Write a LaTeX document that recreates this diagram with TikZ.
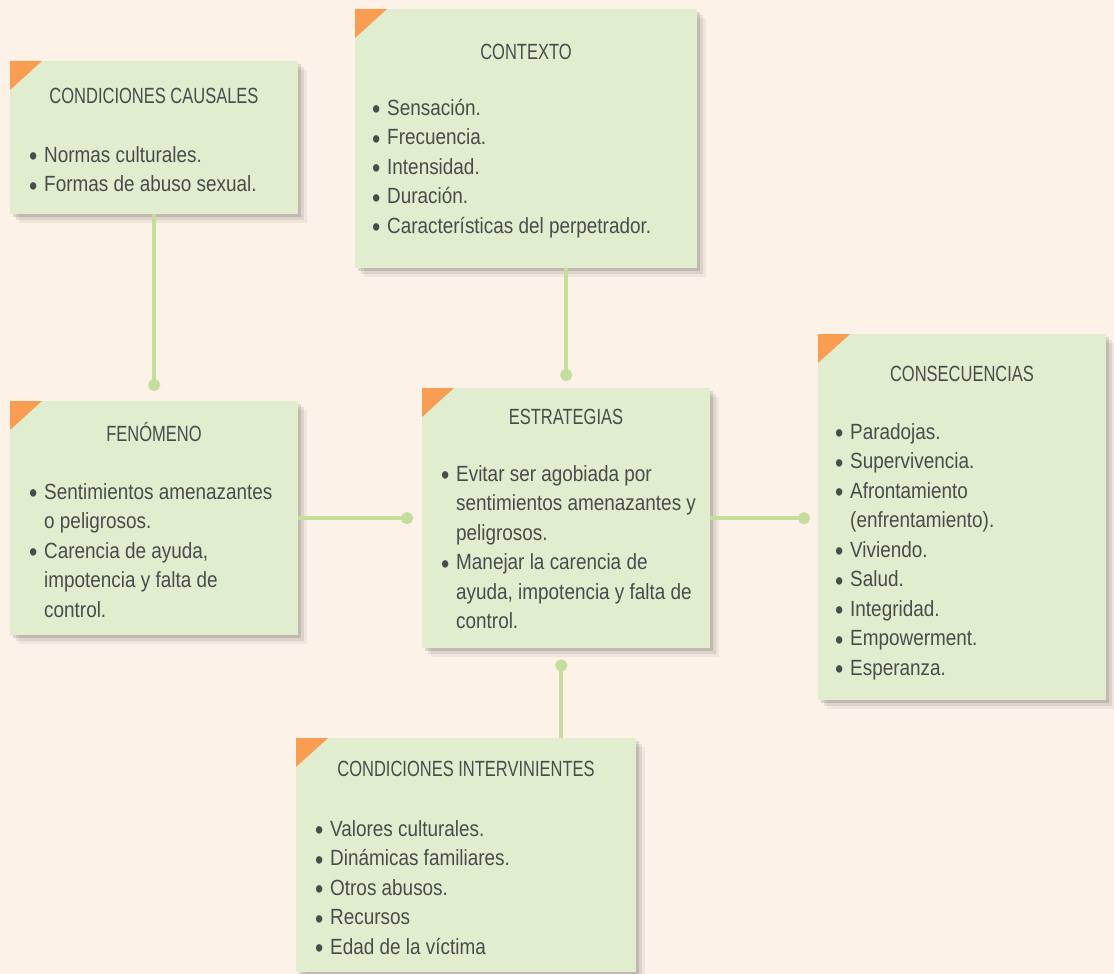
\documentclass[tikz,border=0pt]{standalone}
\usepackage{fontspec}
\setmainfont{Liberation Sans}[FakeStretch=0.86]
\newfontfamily\capsfont{Liberation Sans}[FakeStretch=0.75]
\usetikzlibrary{arrows.meta, positioning, shadows, calc}
\definecolor{PageBg}{HTML}{FDF2E8}
\definecolor{BoxFill}{HTML}{E0EDCE}
\definecolor{CornerOrange}{HTML}{F99D52}
\definecolor{TextGray}{HTML}{4B4B4D}
\definecolor{LinkGreen}{HTML}{C4DE9C}
\tikzset{
  card/.style={fill=BoxFill, draw=none, anchor=north west, inner sep=0pt,
    drop shadow={shadow xshift=3pt, shadow yshift=-3pt, fill=black, opacity=0.12},
    drop shadow={shadow xshift=6pt, shadow yshift=-6pt, fill=black, opacity=0.08},
    drop shadow={shadow xshift=9pt, shadow yshift=-9pt, fill=black, opacity=0.05}},
  ttl/.style={font=\capsfont\fontsize{22}{29.5}\selectfont, text=TextGray, inner sep=0pt},
  items/.style={font=\fontsize{22}{29.5}\selectfont, text=TextGray,
    align=left, anchor=north west, inner sep=0pt},
  link/.style={-{Circle[length=12pt]}, line width=4pt, draw=LinkGreen},
}
\newcommand{\bul}{\makebox[14pt][l]{\hspace*{-1pt}\smash{\raisebox{-0.16em}{\scalebox{1.25}{\textbullet}}}}}
\newcommand{\cont}{\hspace*{14pt}}
\newcommand{\corner}[1]{\fill[CornerOrange] (#1.north west) -- ++(32,0) -- ++(-32,29) -- cycle;}

\begin{document}
\begin{tikzpicture}[x=1pt, y=-1pt]
  \fill[PageBg] (0,0) rectangle (1114,974);
  \useasboundingbox (0,0) rectangle (1114,974);

  % cards
  \node[card, minimum width=288pt, minimum height=153pt] (causal) at (10,61) {};
  \node[card, minimum width=342pt, minimum height=259pt] (ctx) at (355,9) {};
  \node[card, minimum width=288pt, minimum height=234pt] (fen) at (10,401) {};
  \node[card, minimum width=288pt, minimum height=260pt] (est) at (422,388) {};
  \node[card, minimum width=288pt, minimum height=366pt] (cons) at (818,334) {};
  \node[card, minimum width=340pt, minimum height=234pt] (interv) at (296,738) {};
  \foreach \c in {causal, ctx, fen, est, cons, interv} {\corner{\c}}

  % titles
  \node[ttl] (causalT) at (154,96) {CONDICIONES CAUSALES};
  \node[ttl] (ctxT) at (526,52) {CONTEXTO};
  \node[ttl] (fenT) at (154,432) {FENÓMENO};
  \node[ttl] (estT) at (566,417) {ESTRATEGIAS};
  \node[ttl] (consT) at (962,374) {CONSECUENCIAS};
  \node[ttl] (intervT) at (466,769) {CONDICIONES INTERVINIENTES};

  % item lists
  \node[items] (causalL) at (30,146) {\bul Normas culturales.\\
    \bul Formas de abuso sexual.};
  \node[items] (ctxL) at (373,99) {\bul Sensación.\\ \bul Frecuencia.\\
    \bul Intensidad.\\ \bul Duración.\\ \bul Características del perpetrador.};
  \node[items] (fenL) at (30,483) {\bul Sentimientos amenazantes\\
    \cont o peligrosos.\\ \bul Carencia de ayuda,\\
    \cont impotencia y falta de\\ \cont control.};
  \node[items] (estL) at (442,465) {\bul Evitar ser agobiada por\\
    \cont sentimientos amenazantes y\\ \cont peligrosos.\\
    \bul Manejar la carencia de\\ \cont ayuda, impotencia y falta de\\
    \cont control.};
  \node[items] (consL) at (836,423) {\bul Paradojas.\\ \bul Supervivencia.\\
    \bul Afrontamiento\\ \cont (enfrentamiento).\\ \bul Viviendo.\\
    \bul Salud.\\ \bul Integridad.\\ \bul Empowerment.\\ \bul Esperanza.};
  \node[items] (intervL) at (316,820) {\bul Valores culturales.\\
    \bul Dinámicas familiares.\\ \bul Otros abusos.\\ \bul Recursos\\
    \bul Edad de la víctima};

  % connectors
  \draw[link] (causal.south) -- ([yshift=10pt]fen.north);
  \draw[link] (est.north |- ctx.south) -- ([yshift=7pt]est.north);
  \draw[link] (fen.east) -- ([xshift=-9pt]est.west);
  \draw[link] (est.east) -- ([xshift=-8pt]est.east -| cons.west);
  \draw[link] ([xshift=-5pt]est.south |- interv.north) -- ([xshift=-5pt, yshift=-11pt]est.south);
\end{tikzpicture}
\end{document}
